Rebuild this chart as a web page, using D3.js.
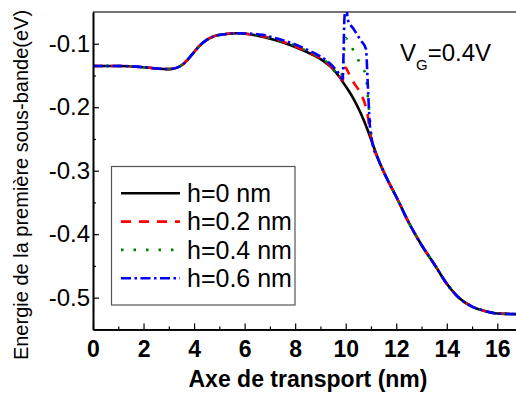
<!DOCTYPE html>
<html lang="fr">

<head>
    <meta charset="utf-8" />
    <script src="https://d3js.org/d3.v7.min.js"></script>
    <style>
        body { margin: 0; background: #fff; }
        svg { font-family: "Liberation Sans", Arial, sans-serif; }
    </style>
</head>

<body>
    <script>

        const w = 516;
        const h = 399;

        // shared x positions (nm)
        const xGrid = [0, 1, 2, 2.5, 3, 3.3, 3.6, 3.9, 4.2, 4.5, 4.8, 5.2, 5.7, 6.2, 6.7, 7.2, 7.8, 8.4, 9.0, 9.4, 9.8,
            9.88, 9.95, 10.0, 10.1, 10.3, 10.6, 10.8, 10.88, 10.95, 11.05, 11.3, 11.7, 12.0, 12.5, 13.0, 13.5, 14.0,
            14.5, 15.0, 15.5, 16.0, 16.9];

        // energy of first subband (eV) for each h
        const h0 = [-0.135, -0.135, -0.137, -0.139, -0.140, -0.138, -0.131, -0.118, -0.104, -0.094, -0.088, -0.085, -0.0835,
            -0.085, -0.089, -0.094, -0.102, -0.112, -0.124, -0.136, -0.155,
            -0.160, -0.164, -0.167, -0.173, -0.186, -0.210, -0.229, -0.237, -0.245, -0.256, -0.283, -0.318, -0.341,
            -0.382, -0.417, -0.447, -0.478, -0.501, -0.514, -0.521, -0.525, -0.526];
        const h02 = [-0.135, -0.135, -0.137, -0.139, -0.140, -0.138, -0.131, -0.118, -0.104, -0.094, -0.088, -0.085, -0.0835,
            -0.085, -0.088, -0.093, -0.101, -0.111, -0.123, -0.135, -0.154,
            -0.158, -0.138, -0.138, -0.145, -0.160, -0.179, -0.200, -0.215, -0.236, -0.256, -0.283, -0.318, -0.341,
            -0.382, -0.417, -0.447, -0.478, -0.501, -0.514, -0.521, -0.525, -0.526];
        const h04 = [-0.135, -0.135, -0.137, -0.139, -0.140, -0.138, -0.131, -0.118, -0.104, -0.094, -0.088, -0.085, -0.0835,
            -0.085, -0.088, -0.093, -0.100, -0.110, -0.122, -0.134, -0.153,
            -0.140, -0.105, -0.091, -0.097, -0.110, -0.134, -0.150, -0.185, -0.215, -0.254, -0.283, -0.318, -0.341,
            -0.382, -0.417, -0.447, -0.478, -0.501, -0.514, -0.521, -0.525, -0.526];
        const h06 = [-0.135, -0.135, -0.137, -0.139, -0.140, -0.138, -0.131, -0.118, -0.104, -0.094, -0.088, -0.085, -0.0835,
            -0.084, -0.086, -0.091, -0.098, -0.108, -0.120, -0.132, -0.151,
            -0.156, -0.060, -0.040, -0.064, -0.076, -0.095, -0.108, -0.170, -0.225, -0.255, -0.283, -0.318, -0.341,
            -0.382, -0.417, -0.447, -0.478, -0.501, -0.514, -0.521, -0.525, -0.526];

        const labels = ["h=0 nm", "h=0.2 nm", "h=0.4 nm", "h=0.6 nm"];
        const colors = ["#000000", "#ff0000", "#008000", "#0000ff"];
        const dashes = ["none", "10,8", "2.5,10", "10,3.5,2.5,3.5"];
        const seriesVals = [h0, h02, h04, h06];

        const xTicks = [0, 2, 4, 6, 8, 10, 12, 14, 16];
        const yTicks = [-0.5, -0.4, -0.3, -0.2, -0.1];

        const plotLeft = 93, plotTop = 12, plotBottom = 329.4;

        const xScale = d3.scaleLinear().domain([0, 17]).range([plotLeft, plotLeft + 17 * 25.27]);
        const yScale = d3.scaleLinear().domain([-0.55, -0.05]).range([plotBottom, plotTop]);

        const svg = d3.select("body")
            .append("svg")
            .attr("width", w)
            .attr("height", h)

        svg.append("clipPath")
            .attr("id", "plotclip")
            .append("rect")
            .attr("x", plotLeft)
            .attr("y", plotTop)
            .attr("width", xScale(17) - plotLeft)
            .attr("height", plotBottom - plotTop)

        // top frame line
        svg.append("line")
            .attr("x1", plotLeft).attr("x2", xScale(17))
            .attr("y1", plotTop).attr("y2", plotTop)
            .attr("stroke", "#444")
            .attr("stroke-width", 1.5)

        const line = d3.line()
            .x((d, i) => xScale(xGrid[i]))
            .y(d => yScale(d))
            .curve(d3.curveMonotoneX)

        svg.append("g")
            .attr("clip-path", "url(#plotclip)")
            .selectAll("path")
            .data(seriesVals)
            .enter()
            .append("path")
            .attr("d", d => line(d))
            .attr("fill", "none")
            .attr("stroke", (d, i) => colors[i])
            .attr("stroke-width", 2.6)
            .attr("stroke-dasharray", (d, i) => dashes[i])

        // axes, ticks pointing inward
        const xAxis = d3.axisBottom(xScale)
            .tickValues(xTicks)
            .tickSizeInner(-6)
            .tickSizeOuter(0)
            .tickPadding(11)
            .tickFormat(d => String(d));
        const xMinor = d3.axisBottom(xScale)
            .tickValues([1, 3, 5, 7, 9, 11, 13, 15])
            .tickSizeInner(-3)
            .tickSizeOuter(0)
            .tickFormat("");
        const yAxis = d3.axisLeft(yScale)
            .tickValues(yTicks)
            .tickSizeInner(-6)
            .tickSizeOuter(0)
            .tickPadding(3)
            .tickFormat(d => d.toFixed(1));
        const yMinor = d3.axisLeft(yScale)
            .tickValues([-0.45, -0.35, -0.25, -0.15])
            .tickSizeInner(-3)
            .tickSizeOuter(0)
            .tickFormat("");

        const gx = svg.append("g")
            .attr("transform", "translate(0, " + plotBottom + ")")
            .call(xAxis)
        svg.append("g")
            .attr("transform", "translate(0, " + plotBottom + ")")
            .call(xMinor)
        const gy = svg.append("g")
            .attr("transform", "translate(" + plotLeft + ", 0)")
            .call(yAxis)
        svg.append("g")
            .attr("transform", "translate(" + plotLeft + ", 0)")
            .call(yMinor)

        svg.selectAll(".domain").attr("stroke", "#000").attr("stroke-width", 1.6)
        svg.selectAll(".tick line").attr("stroke", "#000").attr("stroke-width", 1.2)

        gx.selectAll("text")
            .style("font-family", "'Liberation Sans', Arial, sans-serif")
            .style("font-size", "23px")
            .style("font-weight", "bold")
            .attr("fill", "#000")
        gy.selectAll("text")
            .style("font-family", "'Liberation Sans', Arial, sans-serif")
            .style("font-size", "24px")
            .attr("fill", "#000")

        // axis titles
        svg.append("text")
            .attr("x", 308)
            .attr("y", 387)
            .attr("text-anchor", "middle")
            .style("font-size", "23px")
            .style("font-weight", "bold")
            .text("Axe de transport (nm)")

        svg.append("text")
            .attr("transform", "translate(27.5, 185) rotate(-90)")
            .attr("text-anchor", "middle")
            .style("font-size", "20px")
            .text("Energie de la première sous-bande(eV)")

        // V_G annotation
        const vg = svg.append("text")
            .attr("x", 400)
            .attr("y", 61)
            .style("font-size", "24px")
        vg.append("tspan").text("V")
        vg.append("tspan").attr("dy", 9).style("font-size", "15px").text("G")
        vg.append("tspan").attr("dy", -9).text("=0.4V")

        // legend
        const legend = svg.append("g")

        legend.append("rect")
            .attr("x", 111.5)
            .attr("y", 166.5)
            .attr("width", 183.5)
            .attr("height", 138.5)
            .attr("fill", "#fff")
            .attr("stroke", "#555")
            .attr("stroke-width", 1.2)

        labels.forEach((lab, i) => {
            const yy = 193.3 + i * 28.3;
            legend.append("line")
                .attr("x1", 121).attr("x2", 180)
                .attr("y1", yy).attr("y2", yy)
                .attr("stroke", colors[i])
                .attr("stroke-width", 2.6)
                .attr("stroke-dasharray", dashes[i])
            legend.append("text")
                .attr("x", 187)
                .attr("y", yy)
                .attr("dy", "0.35em")
                .style("font-size", "25px")
                .text(lab)
        })

    </script>
</body>

</html>
